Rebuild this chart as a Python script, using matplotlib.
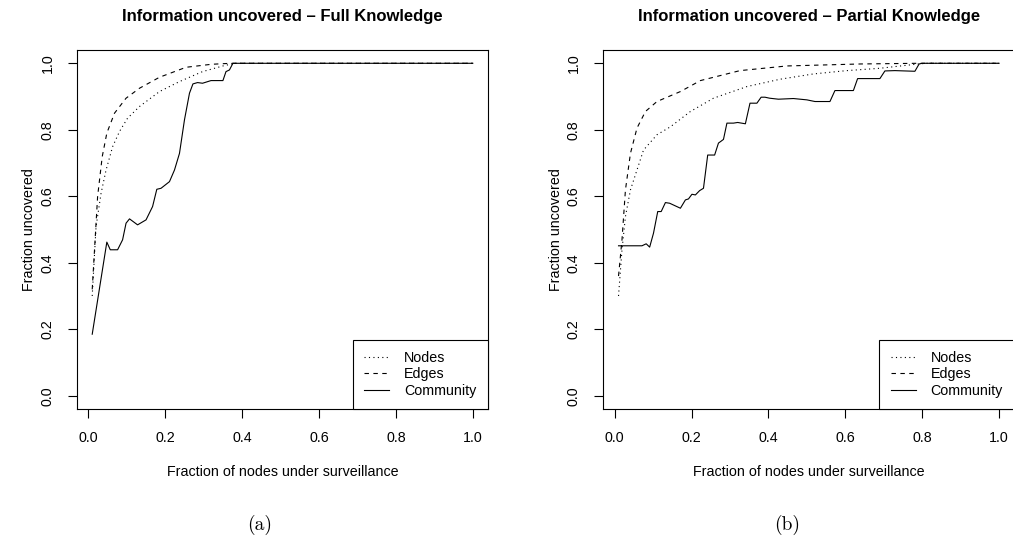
import matplotlib.pyplot as plt

plt.rcParams['font.family'] = ['Liberation Sans', 'DejaVu Sans']

# --- Full knowledge panel ---
full_nodes_x = [0.01, 0.02, 0.033, 0.046, 0.063, 0.081, 0.102, 0.133, 0.185, 0.237, 0.297, 0.35, 0.38, 1.0]
full_nodes_y = [0.30, 0.509, 0.609, 0.679, 0.749, 0.795, 0.835, 0.870, 0.915, 0.945, 0.975, 0.992, 1.0, 1.0]

full_edges_x = [0.01, 0.024, 0.036, 0.048, 0.068, 0.098, 0.133, 0.185, 0.254, 0.32, 0.37, 1.0]
full_edges_y = [0.32, 0.599, 0.719, 0.790, 0.850, 0.895, 0.925, 0.958, 0.988, 0.997, 1.0, 1.0]

full_comm_x = [0.01, 0.048, 0.057, 0.076, 0.089, 0.098, 0.107, 0.128, 0.150, 0.167,
               0.178, 0.189, 0.211, 0.224, 0.237, 0.250, 0.263, 0.272, 0.284, 0.297,
               0.319, 0.350, 0.358, 0.367, 0.376, 1.0]
full_comm_y = [0.185, 0.462, 0.439, 0.439, 0.469, 0.519, 0.532, 0.514, 0.529, 0.569,
               0.621, 0.624, 0.644, 0.679, 0.729, 0.830, 0.910, 0.938, 0.942, 0.940,
               0.948, 0.948, 0.975, 0.980, 1.0, 1.0]

# --- Partial knowledge panel ---
part_nodes_x = [0.01, 0.019, 0.028, 0.041, 0.058, 0.075, 0.110, 0.145, 0.197, 0.257,
                0.344, 0.430, 0.517, 0.604, 0.690, 0.79, 0.81, 1.0]
part_nodes_y = [0.30, 0.439, 0.539, 0.619, 0.679, 0.739, 0.785, 0.809, 0.855, 0.895,
                0.930, 0.952, 0.968, 0.978, 0.985, 0.998, 1.0, 1.0]

part_edges_x = [0.01, 0.019, 0.028, 0.041, 0.058, 0.080, 0.110, 0.171, 0.223, 0.326, 0.448, 0.64, 0.79, 1.0]
part_edges_y = [0.36, 0.469, 0.619, 0.729, 0.805, 0.855, 0.885, 0.915, 0.948, 0.978, 0.992, 0.998, 1.0, 1.0]

part_comm_x = [0.01, 0.071, 0.082, 0.091, 0.101, 0.112, 0.121, 0.132, 0.143, 0.171,
               0.184, 0.192, 0.201, 0.210, 0.221, 0.231, 0.242, 0.260, 0.270, 0.276,
               0.283, 0.292, 0.309, 0.320, 0.340, 0.352, 0.370, 0.381, 0.391, 0.403,
               0.426, 0.465, 0.500, 0.521, 0.560, 0.573, 0.621, 0.632, 0.690, 0.703,
               0.729, 0.781, 0.792, 0.80, 1.0]
part_comm_y = [0.451, 0.451, 0.457, 0.447, 0.489, 0.554, 0.554, 0.581, 0.579, 0.564,
               0.589, 0.592, 0.606, 0.604, 0.617, 0.624, 0.724, 0.724, 0.760, 0.765,
               0.771, 0.820, 0.820, 0.822, 0.818, 0.880, 0.880, 0.898, 0.898, 0.895,
               0.892, 0.894, 0.890, 0.885, 0.885, 0.918, 0.918, 0.954, 0.954, 0.977,
               0.978, 0.976, 0.998, 1.0, 1.0]

ticks = [0.0, 0.2, 0.4, 0.6, 0.8, 1.0]
tick_labels = ["0.0", "0.2", "0.4", "0.6", "0.8", "1.0"]
series_labels = ["Nodes", "Edges", "Community"]
titles = ["Information uncovered \u2013 Full Knowledge",
          "Information uncovered \u2013 Partial Knowledge"]
captions = ["(a)", "(b)"]

W, H = 1013, 538
fig = plt.figure(figsize=(W / 100, H / 100), dpi=100)


def draw_panel(left_px, nodes, edges, comm, title):
    # axes box in pixels: 411 wide, from y=50 to y=409 (the right one runs off the page)
    ax = fig.add_axes([left_px / W, (H - 409) / H, 411 / W, 359 / H])
    lw = 0.8
    ax.plot(nodes[0], nodes[1], color='black', lw=lw, linestyle=(0, (1, 3)), label=series_labels[0])
    ax.plot(edges[0], edges[1], color='black', lw=lw, linestyle=(0, (4, 4)), label=series_labels[1])
    ax.plot(comm[0], comm[1], color='black', lw=lw, linestyle='-', label=series_labels[2])

    ax.set_xlim(-0.0296, 1.0396)
    ax.set_ylim(-0.04, 1.04)
    ax.set_xticks(ticks, tick_labels)
    ax.set_yticks(ticks, tick_labels)
    ax.tick_params(direction='out', length=6.2, width=0.8, labelsize=10.3, pad=10)
    ax.tick_params(axis='y', labelrotation=90)
    for t in ax.get_yticklabels():
        t.set_va('center')
    for s in ax.spines.values():
        s.set_linewidth(0.8)

    ax.set_xlabel("Fraction of nodes under surveillance", fontsize=10.3)
    ax.xaxis.set_label_coords(0.5, -0.156)
    ax.set_ylabel("Fraction uncovered", fontsize=10.3)
    ax.yaxis.set_label_coords(-0.099, 0.5)
    ax.set_title(title, fontsize=12, fontweight='bold', y=1.0816, pad=0)

    leg = ax.legend(loc='lower right', borderaxespad=0, fontsize=10.3, fancybox=False,
                    edgecolor='black', framealpha=1, handlelength=1.75, handletextpad=1.05,
                    borderpad=0.8, labelspacing=0.16)
    leg.get_frame().set_linewidth(0.8)
    return ax


draw_panel(77, (full_nodes_x, full_nodes_y), (full_edges_x, full_edges_y),
           (full_comm_x, full_comm_y), titles[0])
draw_panel(603.3, (part_nodes_x, part_nodes_y), (part_edges_x, part_edges_y),
           (part_comm_x, part_comm_y), titles[1])

fig.text(260 / W, 1 - 525 / H, captions[0], family='cmr10', fontsize=14, ha='center', va='center')
fig.text(787 / W, 1 - 525 / H, captions[1], family='cmr10', fontsize=14, ha='center', va='center')

fig.savefig("out.png", dpi=100)
